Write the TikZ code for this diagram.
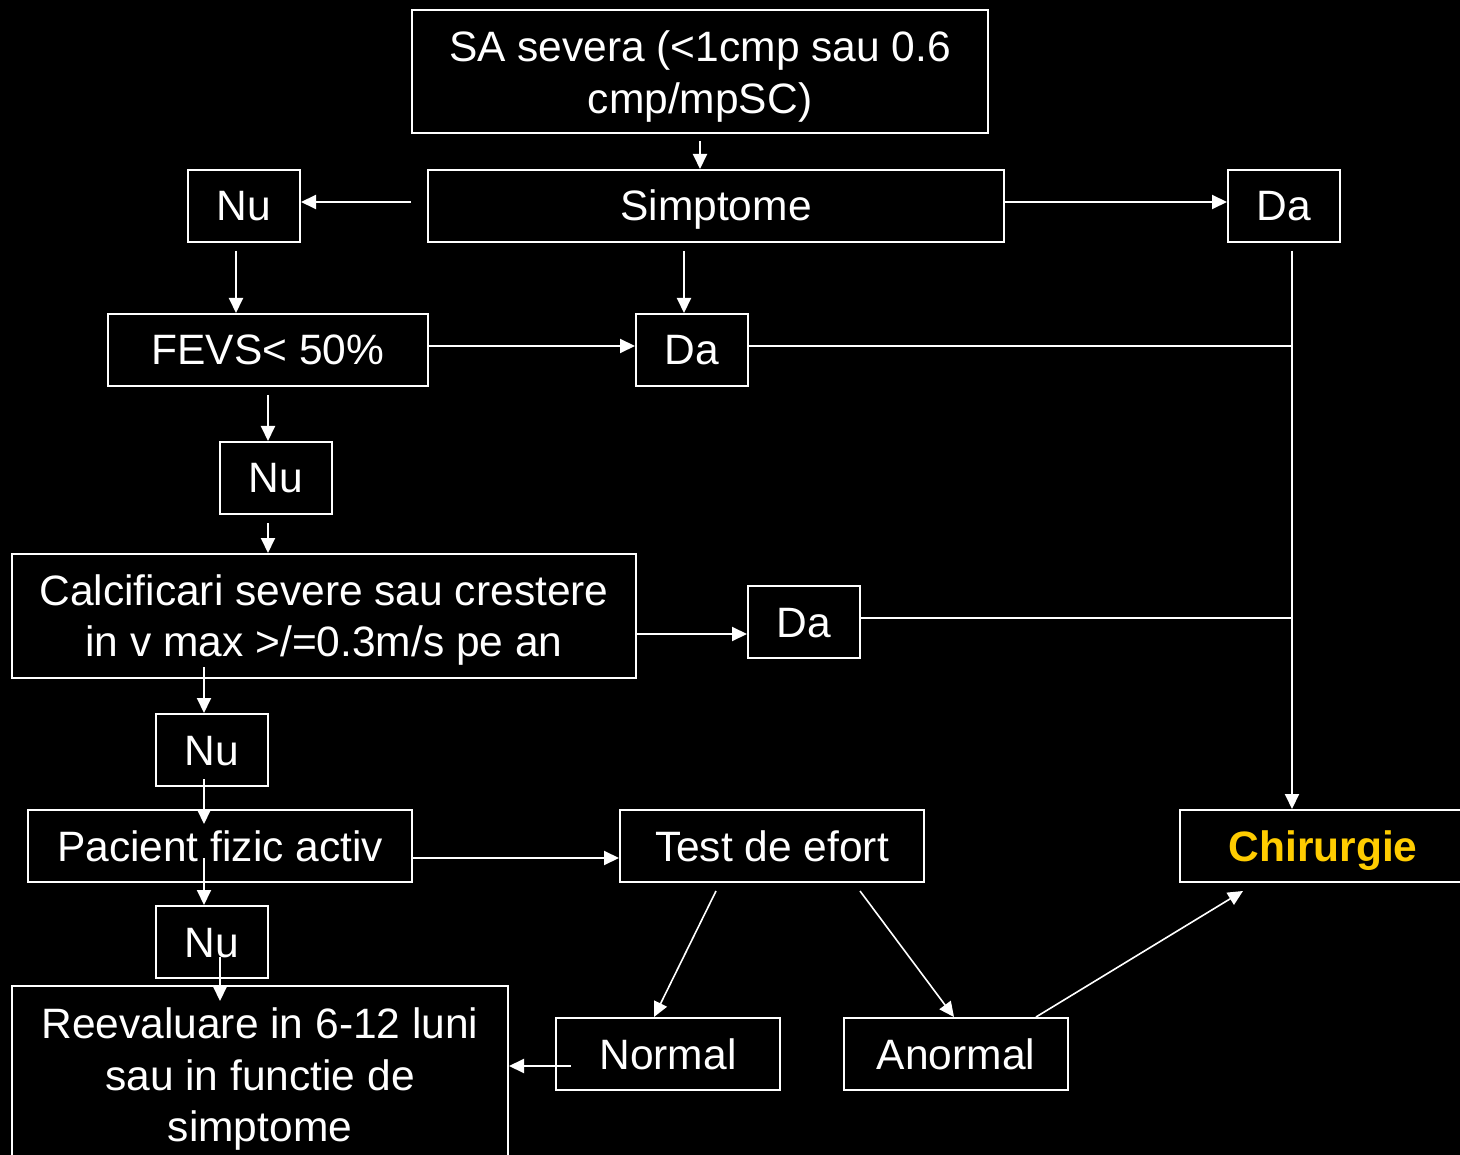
\documentclass[tikz,border=0pt]{standalone}
\usepackage{fontspec}
\setmainfont{Liberation Sans}
\usetikzlibrary{arrows.meta}
\definecolor{gold}{HTML}{FFCC00}
\begin{document}
\begin{tikzpicture}[x=1pt,y=-1pt,
  box/.style={draw=white, line width=2pt, text=white, inner sep=0pt, align=center,
    font=\fontsize{42.5}{51.5}\selectfont},
  one/.style={text height=34pt, text depth=4pt},
  small/.style={box, one, minimum width=112pt, minimum height=72pt},
  arr/.style={draw=white, line width=2pt, -{Triangle[length=15pt,width=14pt]}},
  arrthin/.style={draw=white, line width=1.6pt, -{Triangle[length=15pt,width=14pt]}},
  ln/.style={draw=white, line width=2pt}]
\fill[black] (0,0) rectangle (1460,1155);
\useasboundingbox (0,0) rectangle (1460,1155);

\node[box, minimum width=576pt, minimum height=123pt] (top) at (700,71.5) {\rule{0pt}{41pt}SA severa (<1cmp sau 0.6\\cmp/mpSC)};
\node[box, one, minimum width=576pt, minimum height=72pt] (simp) at (716,206) {Simptome};
\node[small] (nu1) at (244,206) {Nu};
\node[small] (da1) at (1284,206) {Da};
\node[box, one, minimum width=320pt, minimum height=72pt] (fevs) at (268,350) {FEVS< 50\%};
\node[small] (da2) at (692,350) {Da};
\node[small] (nu2) at (276,478) {Nu};
\node[box, minimum width=624pt, minimum height=124pt] (calc) at (324,616) {\rule{0pt}{39pt}Calcificari severe sau crestere\\in v max >/=0.3m/s pe an};
\node[small] (da3) at (804,622) {Da};
\node[small] (nu3) at (212,750) {Nu};
\node[box, one, minimum width=384pt, minimum height=72pt] (pac) at (220,846) {Pacient fizic activ};
\node[box, one, minimum width=304pt, minimum height=72pt] (test) at (772,846) {Test de efort};
\node[box, one, minimum width=286pt, minimum height=72pt, text=gold, font=\fontsize{42.5}{51.5}\selectfont\bfseries] (chir) at (1323,846) {Chirurgie};
\node[small] (nu4) at (212,942) {Nu};
\node[box, minimum width=496pt, minimum height=178pt] (reev) at (260,1075) {\rule{0pt}{39pt}Reevaluare in 6-12 luni\\sau in functie de\\simptome};
\node[box, one, minimum width=224pt, minimum height=72pt] (normal) at (668,1054) {Normal};
\node[box, one, minimum width=224pt, minimum height=72pt] (anormal) at (956,1054) {Anormal};

\coordinate (vx) at ([xshift=8pt]da1.south);

\draw[arr] ([yshift=-7pt]top.south) -- (top.south |- simp.north);
\draw[arr] ([shift={(-16pt,4pt)}]simp.west) -- ([yshift=4pt]nu1.east);
\draw[arr] ([yshift=4pt]simp.east) -- ([yshift=4pt]da1.west);
\draw[arr] ([shift={(-8pt,-8pt)}]nu1.south) -- ([xshift=-8pt]nu1.south |- fevs.north);
\draw[arr] ([shift={(-8pt,-8pt)}]da2.north |- simp.south) -- ([xshift=-8pt]da2.north);
\draw[arr] ([yshift=4pt]fevs.east) -- ([yshift=4pt]da2.west);
\draw[ln] ([yshift=4pt]da2.east) -- ([yshift=4pt]da2.east -| vx);
\draw[arr] ([yshift=-8pt]vx) -- (vx |- chir.north);
\draw[arr] ([yshift=-8pt]fevs.south) -- (fevs.south |- nu2.north);
\draw[arr] ([shift={(-8pt,-8pt)}]nu2.south) -- ([xshift=-8pt]nu2.south |- calc.north);
\draw[arr] ([yshift=-12pt]da3.west -| calc.east) -- ([yshift=-12pt]da3.west);
\draw[ln] ([yshift=4pt]da3.east) -- ([yshift=4pt]da3.east -| vx);
\draw[arr] ([shift={(-8pt,12pt)}]nu3.north |- calc.south) -- ([xshift=-8pt]nu3.north);
\draw[arr] ([shift={(-8pt,8pt)}]nu3.south) -- ([shift={(-8pt,-15pt)}]nu3.south |- pac.north);
\draw[arr] ([yshift=-12pt]pac.east) -- ([yshift=-12pt]test.west);
\draw[arr] ([shift={(-8pt,-12pt)}]nu4.north |- pac.center) -- ([xshift=-8pt]nu4.north);
\draw[arr] ([shift={(8pt,-15pt)}]nu4.center) -- ([shift={(8pt,-16pt)}]nu4.center |- reev.north);
\draw[arrthin] ([shift={(-56pt,-8pt)}]test.south) -- ([xshift=-14pt]normal.north);
\draw[arrthin] ([shift={(88pt,-8pt)}]test.south) -- ([xshift=-2pt]anormal.north);
\draw[arrthin] ([xshift=80pt]anormal.north) -- ([shift={(-80pt,-8pt)}]chir.south);
\draw[arr] ([shift={(16pt,-12pt)}]normal.west) -- ([yshift=-12pt]normal.west -| reev.east);
\end{tikzpicture}
\end{document}
